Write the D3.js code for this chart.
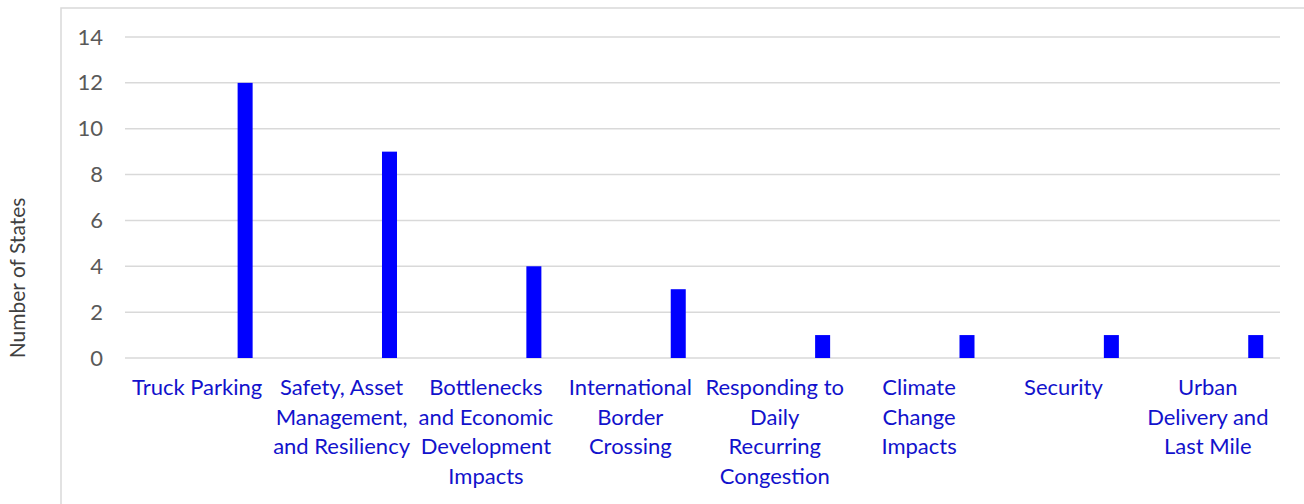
<!DOCTYPE html>
<html>
<head>
<meta charset="utf-8">
<script src="https://cdn.jsdelivr.net/npm/d3@7"></script>
<style>
  body { margin: 0; background: #fff; }
  text { font-family: Lato, "Open Sans", sans-serif; }
</style>
</head>
<body>
<div id="chart"></div>
<script>
// categories, one label line per entry
var categories = [
    ["Truck Parking"],
    ["Safety, Asset", "Management,", "and Resiliency"],
    ["Bottlenecks", "and Economic", "Development", "Impacts"],
    ["International", "Border", "Crossing"],
    ["Responding to", "Daily", "Recurring", "Congestion"],
    ["Climate", "Change", "Impacts"],
    ["Security"],
    ["Urban", "Delivery and", "Last Mile"]
];
var stateCounts = [12, 9, 4, 3, 1, 1, 1, 1];
var yTicks = [0, 2, 4, 6, 8, 10, 12, 14];

var width = 1304, height = 504;

var svg = d3.select("#chart").append("svg")
    .attr("width", width)
    .attr("height", height);

// chart area frame
svg.append("rect")
    .attr("x", 61).attr("y", 8)
    .attr("width", 1260).attr("height", 520)
    .attr("fill", "none")
    .attr("stroke", "#d9d9d9")
    .attr("stroke-width", 1.5);

var keys = categories.map(function(d, i) { return i; });

var x = d3.scaleBand()
    .domain(keys)
    .range([125, 1280]);

var y = d3.scaleLinear()
    .domain([0, 14])
    .range([358, 37]);

// gridlines
svg.append("g").selectAll("line")
    .data(yTicks)
    .enter().append("line")
    .attr("x1", 125).attr("x2", 1280)
    .attr("y1", function(d) { return y(d); })
    .attr("y2", function(d) { return y(d); })
    .attr("stroke", "#d9d9d9")
    .attr("stroke-width", 1.5);

// y axis labels
var yAxis = d3.axisLeft(y).tickValues(yTicks).tickSize(0).tickPadding(0);
var yg = svg.append("g")
    .attr("transform", "translate(103,0)")
    .call(yAxis);
yg.select(".domain").remove();
yg.selectAll("text")
    .attr("fill", "#595959")
    .style("font-size", "22px")
    .style("font-family", "Lato, 'Open Sans', sans-serif");

svg.append("text")
    .attr("transform", "translate(25,278) rotate(-90)")
    .attr("text-anchor", "middle")
    .attr("fill", "#404040")
    .style("font-size", "21px")
    .text("Number of States");

// bars sit toward the right of each band (empty series before them)
var bw = x.bandwidth();
svg.append("g").selectAll("rect")
    .data(stateCounts)
    .enter().append("rect")
    .attr("x", function(d, i) { return x(i) + bw * 0.78; })
    .attr("y", function(d) { return y(d); })
    .attr("width", bw * 0.104)
    .attr("height", function(d) { return y(0) - y(d); })
    .attr("fill", "#0000ff");

// category labels
var lab = svg.append("g").selectAll("text")
    .data(categories)
    .enter().append("text")
    .attr("text-anchor", "middle")
    .attr("fill", "#1212cc")
    .style("font-size", "22px")
    .attr("x", function(d, i) { return x(i) + bw / 2; })
    .attr("y", 395);

lab.selectAll("tspan")
    .data(function(d) { return d; })
    .enter().append("tspan")
    .attr("x", function() { return d3.select(this.parentNode).attr("x"); })
    .attr("dy", function(d, i) { return i === 0 ? 0 : 29.5; })
    .text(function(d) { return d; });
</script>
</body>
</html>
